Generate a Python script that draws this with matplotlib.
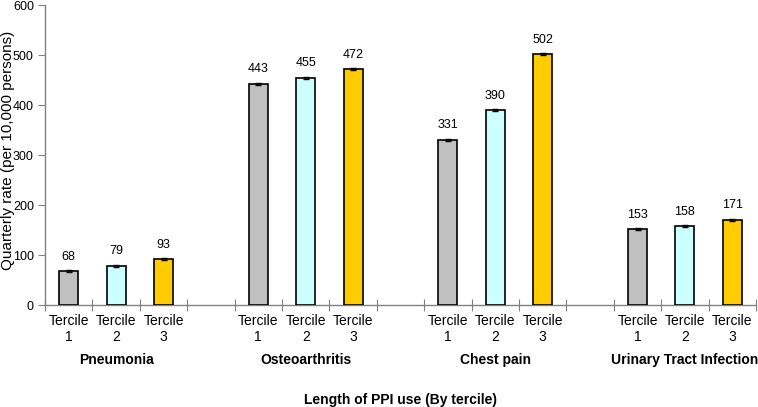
import matplotlib.pyplot as plt
from matplotlib.ticker import FixedLocator

plt.rcParams['font.family'] = ['Liberation Sans', 'DejaVu Sans']

# Data
groups = ['Pneumonia', 'Osteoarthritis', 'Chest pain', 'Urinary Tract Infection']
terciles = ['Tercile\n1', 'Tercile\n2', 'Tercile\n3']
values = [[68, 79, 93], [443, 455, 472], [331, 390, 502], [153, 158, 171]]
errors = [[2, 2, 2], [2, 2, 2], [2, 2, 2], [2, 2, 2]]
colors = ['#C0C0C0', '#CCFFFF', '#FFCC00']

fig = plt.figure(figsize=(7.58, 4.07), dpi=100)
ax = fig.add_axes([45 / 758, 102 / 407, 711 / 758, 300 / 407])

axis_col = '#808080'
for g, vals in enumerate(values):
    for t, v in enumerate(vals):
        x = g * 4 + t
        ax.bar(x, v, width=0.4, color=colors[t], edgecolor='black', linewidth=1.2, zorder=3)
        ax.errorbar(x, v, yerr=errors[g][t], fmt='none', ecolor='black', elinewidth=0.8,
                    capsize=2, zorder=4)
        ax.text(x, v + 16, str(v), ha='center', va='bottom', fontsize=9)
        ax.text(x, -18, terciles[t], ha='center', va='top', fontsize=10, linespacing=1.2)
    ax.text(g * 4 + 1, -96, groups[g], ha='center', va='top', fontsize=10, fontweight='bold')

ax.text(7, -176, 'Length of PPI use (By tercile)', ha='center', va='top', fontsize=10,
        fontweight='bold')

ax.set_xlim(-0.5, 14.5)
ax.set_ylim(0, 600)
ax.set_yticks(range(0, 601, 100))
ax.tick_params(axis='y', direction='out', length=5, color=axis_col, labelsize=9, pad=3)
ax.xaxis.set_major_locator(FixedLocator([i - 0.5 for i in range(16)]))
ax.set_xticklabels([])
ax.tick_params(axis='x', direction='inout', length=8, color=axis_col)

for s in ['top', 'right']:
    ax.spines[s].set_visible(False)
for s in ['left', 'bottom']:
    ax.spines[s].set_color(axis_col)
    ax.spines[s].set_linewidth(1.0)

# y label placed in figure coords so it is not cut off
fig.text(8 / 758, 1 - 150 / 407, 'Quarterly rate (per 10,000 persons)', rotation=90,
         ha='center', va='center', fontsize=11)

fig.savefig('out.png', dpi=100)
